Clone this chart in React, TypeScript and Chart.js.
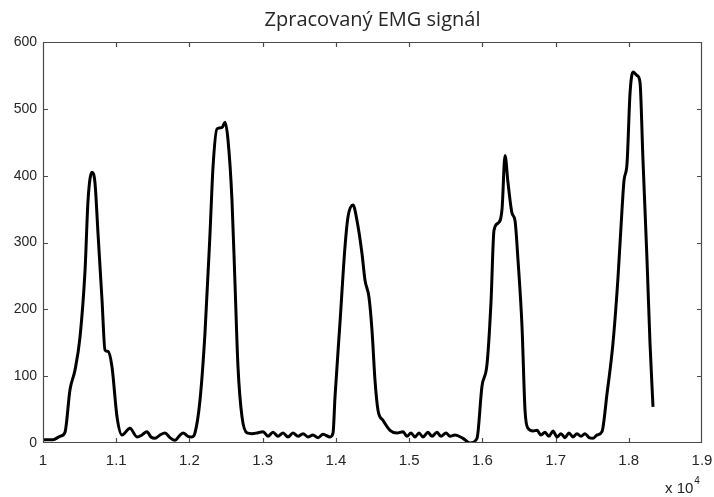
import React, { useEffect, useRef } from "react";
import { Chart, registerables } from "chart.js";

Chart.register(...registerables);

const TITLE = "Zpracovaný EMG signál";

// sample positions (raw x values; axis shows them as x 10^4)
const xValues: number[] = [
  10000, 10137, 10232, 10300, 10369, 10437, 10505, 10574, 10615, 10669,
  10710, 10751, 10806, 10847, 10888, 10942, 11011, 11079, 11188, 11284,
  11352, 11420, 11475, 11530, 11598, 11666, 11734, 11803, 11857, 11912,
  11980, 12035, 12076, 12144, 12212, 12281, 12322, 12376, 12445, 12486,
  12527, 12581, 12622, 12663, 12718, 12786, 12854, 12923, 13005, 13073,
  13141, 13209, 13278, 13346, 13414, 13483, 13551, 13619, 13687, 13756,
  13824, 13920, 13961, 13988, 14056, 14124, 14165, 14234, 14288, 14356,
  14397, 14452, 14493, 14534, 14575, 14643, 14739, 14835, 14917, 14971,
  15026, 15080, 15135, 15190, 15258, 15313, 15381, 15435, 15504, 15558,
  15627, 15736, 15832, 15927, 15995, 16064, 16118, 16159, 16214, 16269,
  16310, 16351, 16405, 16446, 16487, 16542, 16583, 16624, 16692, 16747,
  16801, 16856, 16910, 16965, 17020, 17074, 17129, 17184, 17238, 17293,
  17347, 17402, 17457, 17511, 17566, 17634, 17703, 17784, 17853, 17907,
  17935, 17976, 18017, 18058, 18112, 18153, 18194, 18249, 18290, 18331,
];

const emgValues: number[] = [
  5, 5, 10, 16, 80, 109, 158, 258, 363, 405,
  389, 314, 214, 139, 137, 114, 39, 12, 22, 9,
  12, 17, 9, 7, 12, 15, 8, 4, 10, 15,
  10, 9, 15, 64, 164, 314, 413, 470, 472, 480,
  453, 363, 239, 114, 39, 15, 14, 15, 17, 10,
  16, 10, 15, 9, 15, 10, 14, 9, 12, 8,
  13, 9, 15, 69, 180, 293, 338, 356, 333, 284,
  244, 218, 169, 94, 49, 34, 19, 15, 17, 10,
  15, 9, 15, 9, 16, 10, 16, 10, 15, 10,
  12, 7, 0, 7, 85, 118, 210, 318, 329, 350,
  430, 389, 344, 333, 274, 174, 49, 22, 18, 19,
  12, 16, 10, 18, 9, 14, 8, 15, 9, 14,
  10, 14, 8, 7, 12, 17, 74, 149, 248, 348,
  393, 418, 523, 555, 550, 540, 423, 274, 149, 54,
];

const X_MIN = 10000;
const X_MAX = 19000;
const X_STEP = 1000;
const Y_MIN = 0;
const Y_MAX = 600;
const Y_STEP = 100;
const X_EXPONENT = "4";

const framePlugin = {
  id: "matlabFrame",
  afterDraw(chart: any) {
    const { ctx, chartArea, scales } = chart;
    const { left, right, top, bottom } = chartArea;
    ctx.save();
    ctx.strokeStyle = "#4a4a4a";
    ctx.lineWidth = 1.2;
    ctx.beginPath();
    ctx.rect(left + 0.5, top + 0.5, right - left - 1, bottom - top - 1);
    ctx.stroke();
    const tl = 5;
    ctx.beginPath();
    for (let v = X_MIN + X_STEP; v < X_MAX; v += X_STEP) {
      const px = Math.round(scales.x.getPixelForValue(v)) + 0.5;
      ctx.moveTo(px, bottom);
      ctx.lineTo(px, bottom - tl);
      ctx.moveTo(px, top);
      ctx.lineTo(px, top + tl);
    }
    for (let v = Y_MIN + Y_STEP; v < Y_MAX; v += Y_STEP) {
      const py = Math.round(scales.y.getPixelForValue(v)) + 0.5;
      ctx.moveTo(left, py);
      ctx.lineTo(left + tl, py);
      ctx.moveTo(right, py);
      ctx.lineTo(right - tl, py);
    }
    ctx.stroke();
    // exponent label
    ctx.fillStyle = "#222";
    ctx.textBaseline = "alphabetic";
    ctx.font = "15px 'Liberation Sans', Arial, sans-serif";
    const base = "x 10";
    const bw = ctx.measureText(base).width;
    const bx = 665;
    const by = 493;
    ctx.fillText(base, bx, by);
    ctx.font = "10px 'Liberation Sans', Arial, sans-serif";
    ctx.fillText(X_EXPONENT, bx + bw + 1, by - 9);
    ctx.restore();
  },
};

export default function App() {
  const ref = useRef<HTMLCanvasElement | null>(null);
  useEffect(() => {
    document.body.style.margin = "0";
    const canvas = ref.current;
    if (!canvas) return;
    const points = xValues.map((x, i) => ({ x, y: emgValues[i] }));
    const chart = new Chart(canvas, {
      type: "line",
      data: {
        datasets: [
          {
            data: points,
            borderColor: "#000",
            borderWidth: 3,
            pointRadius: 0,
            fill: false,
            cubicInterpolationMode: "monotone",
          },
        ],
      },
      options: {
        animation: false,
        responsive: false,
        parsing: false as any,
        layout: { padding: { left: 0, right: 12, top: 0, bottom: 0 } },
        plugins: {
          legend: { display: false },
          tooltip: { enabled: false },
          title: {
            display: true,
            text: TITLE,
            fullSize: false,
            color: "#262626",
            font: { family: "'Open Sans', sans-serif", size: 20, weight: "normal", lineHeight: 1.2 },
            padding: { top: 8, bottom: 10 },
          },
        },
        scales: {
          x: {
            type: "linear",
            min: X_MIN,
            max: X_MAX,
            grid: { display: false, drawTicks: false },
            border: { display: false },
            ticks: {
              stepSize: X_STEP,
              padding: 9,
              color: "#262626",
              font: { family: "'Liberation Sans', Arial, sans-serif", size: 15 },
              maxRotation: 0,
              callback: (v: any) => String(Number((Number(v) / 10000).toFixed(1))),
            },
            afterFit: (s: any) => {
              s.height = 54;
              s.paddingLeft = 0;
              s.paddingRight = 0;
            },
          },
          y: {
            type: "linear",
            min: Y_MIN,
            max: Y_MAX,
            grid: { display: false, drawTicks: false },
            border: { display: false },
            ticks: {
              stepSize: Y_STEP,
              padding: 6,
              color: "#262626",
              font: { family: "'Liberation Sans', Arial, sans-serif", size: 14 },
            },
            afterFit: (s: any) => {
              s.width = 43;
              s.paddingTop = 0;
              s.paddingBottom = 0;
            },
          },
        },
      },
      plugins: [framePlugin],
    });
    return () => chart.destroy();
  }, []);
  return <canvas ref={ref} width={714} height={497} style={{ display: "block" }} />;
}
